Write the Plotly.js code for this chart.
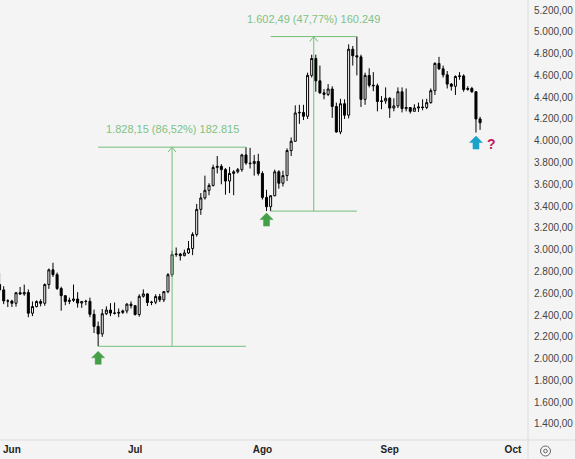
<!DOCTYPE html>
<html><head><meta charset="utf-8">
<script src="https://cdn.plot.ly/plotly-3.0.1.min.js"></script>
<style>html,body{margin:0;padding:0;background:#f4f4f4}#chart{width:575px;height:459px}</style>
</head><body><div id="chart"></div>
<script>
const dates = ['2025-05-29','2025-05-30','2025-05-31',
'2025-06-01','2025-06-02','2025-06-03','2025-06-04','2025-06-05','2025-06-06','2025-06-07','2025-06-08','2025-06-09','2025-06-10',
'2025-06-11','2025-06-12','2025-06-13','2025-06-14','2025-06-15','2025-06-16','2025-06-17','2025-06-18','2025-06-19','2025-06-20',
'2025-06-21','2025-06-22','2025-06-23','2025-06-24','2025-06-25','2025-06-26','2025-06-27','2025-06-28','2025-06-29','2025-06-30',
'2025-07-01','2025-07-02','2025-07-03','2025-07-04','2025-07-05','2025-07-06','2025-07-07','2025-07-08','2025-07-09','2025-07-10',
'2025-07-11','2025-07-12','2025-07-13','2025-07-14','2025-07-15','2025-07-16','2025-07-17','2025-07-18','2025-07-19','2025-07-20',
'2025-07-21','2025-07-22','2025-07-23','2025-07-24','2025-07-25','2025-07-26','2025-07-27','2025-07-28','2025-07-29','2025-07-30','2025-07-31',
'2025-08-01','2025-08-02','2025-08-03','2025-08-04','2025-08-05','2025-08-06','2025-08-07','2025-08-08','2025-08-09','2025-08-10',
'2025-08-11','2025-08-12','2025-08-13','2025-08-14','2025-08-15','2025-08-16','2025-08-17','2025-08-18','2025-08-19','2025-08-20',
'2025-08-21','2025-08-22','2025-08-23','2025-08-24','2025-08-25','2025-08-26','2025-08-27','2025-08-28','2025-08-29','2025-08-30','2025-08-31',
'2025-09-01','2025-09-02','2025-09-03','2025-09-04','2025-09-05','2025-09-06','2025-09-07','2025-09-08','2025-09-09','2025-09-10',
'2025-09-11','2025-09-12','2025-09-13','2025-09-14','2025-09-15','2025-09-16','2025-09-17','2025-09-18','2025-09-19','2025-09-20',
'2025-09-21','2025-09-22','2025-09-23'];
const open = [2681,2631,2530,
2528,2508,2605,2593,2607,2417,2478,2524,2508,2680,
2815,2771,2644,2578,2525,2535,2547,2510,2524,2526,
2407,2296,2227,2412,2446,2418,2417,2424,2438,2500,
2486,2405,2572,2594,2515,2518,2570,2540,2615,2770,
2955,2960,2945,2970,3010,3140,3370,3475,3545,3590,
3755,3765,3735,3630,3700,3715,3735,3870,3795,3790,3810,
3700,3480,3395,3495,3715,3610,3680,3910,3995,4255,
4260,4225,4600,4755,4550,4440,4425,4475,4315,4080,
4340,4235,4840,4780,4770,4380,4600,4510,4505,4360,4365,
4390,4300,4320,4450,4295,4305,4270,4300,4310,4305,
4350,4460,4710,4660,4605,4520,4500,4590,4595,4470,
4480,4450,4200];
const high = [2787,2665,2545,
2540,2609,2658,2680,2635,2525,2535,2545,2690,2827,
2880,2790,2660,2580,2560,2680,2610,2530,2540,2560,
2450,2340,2455,2480,2509,2515,2460,2450,2509,2525,
2492,2590,2636,2600,2530,2590,2594,2620,2785,2990,
3020,2970,3000,3080,3160,3420,3520,3680,3610,3780,
3860,3785,3750,3760,3730,3750,3880,3941,3935,3870,3880,
3720,3550,3500,3735,3730,3725,3930,4030,4325,4330,
4330,4625,4790,4790,4690,4475,4520,4500,4350,4385,
4380,4885,4870,4956,4790,4625,4665,4630,4525,4410,4490,
4400,4390,4490,4490,4480,4310,4335,4350,4380,4385,
4480,4720,4770,4690,4640,4530,4600,4630,4610,4500,
4495,4450,4220];
const low = [2612,2500,2473,
2474,2478,2587,2577,2380,2390,2470,2480,2485,2640,
2750,2630,2440,2490,2500,2520,2468,2466,2490,2380,
2235,2113,2200,2400,2390,2405,2380,2410,2415,2460,
2395,2385,2560,2483,2490,2500,2520,2520,2600,2750,
2935,2900,2940,2960,2950,3120,3320,3460,3500,3580,
3700,3600,3505,3520,3500,3700,3715,3780,3745,3680,3680,
3460,3355,3354,3490,3560,3580,3630,3860,3990,4155,
4190,4200,4580,4450,4430,4380,4410,4210,4075,4060,
4200,4205,4690,4600,4310,4330,4490,4455,4270,4290,4340,
4210,4270,4300,4260,4270,4250,4270,4265,4280,4290,
4340,4420,4650,4580,4480,4460,4420,4560,4450,4460,
4440,4075,4100];
const close = [2631,2530,2528,
2508,2605,2593,2607,2417,2478,2524,2508,2680,2815,
2771,2644,2578,2525,2535,2547,2510,2524,2526,2407,
2296,2227,2412,2446,2418,2417,2424,2438,2500,2486,
2405,2572,2594,2515,2518,2570,2540,2615,2770,2955,
2960,2945,2970,3010,3140,3370,3475,3545,3590,3755,
3765,3735,3630,3700,3715,3735,3870,3795,3790,3810,3700,
3480,3395,3495,3715,3610,3680,3910,3995,4255,4260,
4225,4600,4755,4550,4440,4425,4475,4315,4080,4340,
4235,4840,4780,4770,4380,4600,4510,4505,4360,4365,4390,
4300,4320,4450,4295,4305,4270,4300,4310,4305,4350,
4460,4710,4660,4605,4520,4500,4590,4595,4470,4480,
4450,4200,4165];

const monthTicks = ['2025-06-01','2025-07-01','2025-08-01','2025-09-01','2025-10-01'];
const monthLabels = ['Jun','Jul','Ago','Sep','Oct'];

// measurement tools
const measStart = ['2025-06-22','2025-08-03'];
const measEnd = ['2025-07-28','2025-08-24'];
const measMid = ['2025-07-10','2025-08-13 12:00'];
const measLow = [2113.0, 3354.0];
const measHigh = [3941.15, 4956.49];
const measText = ['1.828,15 (86,52%) 182.815','1.602,49 (47,77%) 160.249'];

// arrow marks
const markDates = ['2025-06-22','2025-08-02','2025-09-22'];
const markPrices = [2113, 3354, 4075];
const markTop = [-5, -2, -3.5];
const markColors = ['#43a047','#43a047','#1ba3c9'];

const lineGreen = '#74bf78';
const shapes = [];
const annotations = [];
for (let i = 0; i < measStart.length; i++) {
  shapes.push({type:'line', xref:'x', yref:'y', x0:measStart[i], x1:measEnd[i], y0:measLow[i], y1:measLow[i], line:{color:lineGreen, width:1}});
  shapes.push({type:'line', xref:'x', yref:'y', x0:measStart[i], x1:measEnd[i], y0:measHigh[i], y1:measHigh[i], line:{color:lineGreen, width:1}});
  shapes.push({type:'line', xref:'x', yref:'y', x0:measMid[i], x1:measMid[i], y0:measLow[i], y1:measHigh[i], line:{color:lineGreen, width:1}});
  shapes.push({type:'path', xref:'x', yref:'y', xsizemode:'pixel', ysizemode:'pixel', xanchor:measMid[i], yanchor:measHigh[i],
    path:'M -4 -5 L 0 0 L 4 -5', line:{color:lineGreen, width:1}});
  annotations.push({x:measMid[i], y:measHigh[i], xref:'x', yref:'y', text:measText[i], showarrow:false, yanchor:'middle', yshift:18,
    font:{family:'Liberation Sans, Arial, sans-serif', size:11, color:'#7fc283'}});
}
for (let i = 0; i < markDates.length; i++) {
  const t = markTop[i];
  const p = `M 0 ${t} L 6.5 ${t-6.5} L 3 ${t-6.5} L 3 ${t-13} L -3 ${t-13} L -3 ${t-6.5} L -6.5 ${t-6.5} Z`;
  shapes.push({type:'path', xref:'x', yref:'y', xsizemode:'pixel', ysizemode:'pixel', xanchor:markDates[i], yanchor:markPrices[i],
    path:p, fillcolor:markColors[i], line:{color:markColors[i], width:0.5}});
}
annotations.push({x:'2025-09-22', y:4075, xref:'x', yref:'y', text:'<b>?</b>', showarrow:false, xshift:16, yshift:-11,
  font:{family:'Liberation Sans, Arial, sans-serif', size:14, color:'#c2185b'}});

// frame lines
shapes.push({type:'line', xref:'paper', yref:'paper', x0:0, x1:575/528, y0:0, y1:0, line:{color:'#dcdcdc', width:1}});
shapes.push({type:'line', xref:'paper', yref:'paper', x0:1, x1:1, y0:-19/440, y1:1, line:{color:'#dcdcdc', width:1}});
// settings icon
shapes.push({type:'circle', xref:'paper', yref:'paper', xsizemode:'pixel', ysizemode:'pixel', xanchor:545.5/528, yanchor:-11/440,
  x0:-5, x1:5, y0:-5, y1:5, line:{color:'#666', width:1}});
shapes.push({type:'circle', xref:'paper', yref:'paper', xsizemode:'pixel', ysizemode:'pixel', xanchor:545.5/528, yanchor:-11/440,
  x0:-1.8, x1:1.8, y0:-1.8, y1:1.8, line:{color:'#666', width:1}});

const trace = {
  type:'candlestick', x:dates, open:open, high:high, low:low, close:close,
  increasing:{line:{color:'#000', width:1}, fillcolor:'#ffffff'},
  decreasing:{line:{color:'#000', width:1}, fillcolor:'#000000'},
  whiskerwidth:0, hoverinfo:'skip'
};

const layout = {
  width:575, height:459,
  margin:{l:0, r:47, t:0, b:19, pad:0},
  paper_bgcolor:'#f4f4f4', plot_bgcolor:'#f4f4f4',
  separators:',.',
  showlegend:false,
  xaxis:{type:'date', range:['2025-05-29 02:25','2025-10-04 16:05'], rangeslider:{visible:false},
    tickvals:monthTicks, ticktext:monthLabels, showgrid:false, zeroline:false, showline:false, ticks:'', ticklabelstandoff:2,
    tickfont:{family:'Liberation Sans, Arial, sans-serif', size:10, color:'#222', weight:'bold'}, fixedrange:true},
  yaxis:{side:'right', range:[1253, 5292], dtick:200, tick0:0, tickformat:',.2f', showgrid:false, zeroline:false, showline:false,
    ticks:'', ticklabelstandoff:5,
    tickfont:{family:'Liberation Sans, Arial, sans-serif', size:10, color:'#444'}, fixedrange:true},
  shapes:shapes, annotations:annotations
};
Plotly.newPlot('chart', [trace], layout, {displayModeBar:false, staticPlot:true});
</script></body></html>
